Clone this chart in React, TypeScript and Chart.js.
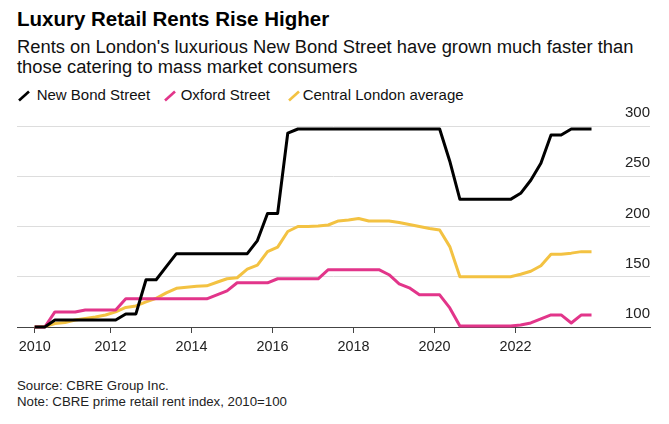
import React, { useEffect, useRef } from 'react';
import { Chart, registerables } from 'chart.js';

Chart.register(...registerables);

// ---- Data (CBRE prime retail rent index, 2010=100, quarterly) ----
const START_YEAR = 2010;

const NEW_BOND_STREET = [
  100, 100, 107, 107, 107, 107, 107, 107, 107, 113,
  113, 147, 147, 160, 173, 173, 173, 173, 173, 173,
  173, 173, 186, 213, 213, 293, 297, 297, 297, 297,
  297, 297, 297, 297, 297, 297, 297, 297, 297, 297,
  297, 265, 227, 227, 227, 227, 227, 227, 233, 246,
  263, 291, 291, 297, 297, 297,
];

const OXFORD_STREET = [
  100, 100, 115, 115, 115, 117, 117, 117, 117, 128,
  128, 128, 128, 128, 128, 128, 128, 128, 132, 136,
  144, 144, 144, 144, 148, 148, 148, 148, 148, 157,
  157, 157, 157, 157, 157, 152, 143, 139, 132, 132,
  132, 119, 101, 101, 101, 101, 101, 101, 102, 104,
  108, 112, 112, 104, 112, 112,
];

const CENTRAL_LONDON = [
  100, 100.5, 103.5, 104.5, 107, 108.5, 110, 112, 115, 119.5,
  121, 125, 128.5, 134, 138.5, 139.5, 140.5, 141, 144.5, 148,
  149, 157.5, 161.5, 175, 179.5, 195, 200, 200, 200.5, 201.5,
  205.5, 206.5, 208, 205.5, 205.5, 205.5, 204, 202, 200, 198,
  196.5, 180, 150, 150, 150, 150, 150, 150, 152.5, 155.5,
  161, 172.5, 172.5, 173.5, 175, 175,
];

// quarter mid-points as decimal years
const QUARTERS = NEW_BOND_STREET.map(
  (_, i) => START_YEAR + Math.floor(i / 4) + (i % 4) * 0.25 + 0.125
);

const SERIES_NAMES = ['New Bond Street', 'Oxford Street', 'Central London average'];
const SERIES_VALUES = [NEW_BOND_STREET, OXFORD_STREET, CENTRAL_LONDON];
const SERIES_COLORS = ['#000000', '#e2358a', '#f3c242'];

const X_TICK_YEARS = [2010, 2012, 2014, 2016, 2018, 2020, 2022];
const Y_TICKS = [100, 150, 200, 250, 300];

const FONT = '"Liberation Sans", Arial, Helvetica, sans-serif';

function ChartCanvas() {
  const ref = useRef<HTMLCanvasElement | null>(null);

  useEffect(() => {
    if (!ref.current) return;
    const chart = new Chart(ref.current, {
      type: 'line',
      data: {
        datasets: SERIES_NAMES.map((name, i) => ({
          label: name,
          data: QUARTERS.map((x, j) => ({ x, y: SERIES_VALUES[i][j] })),
          borderColor: SERIES_COLORS[i],
          backgroundColor: SERIES_COLORS[i],
          borderWidth: 3,
          pointRadius: 0,
          pointHoverRadius: 0,
          tension: 0,
          fill: false,
          clip: false as any,
          borderJoinStyle: 'round' as const,
        })),
      },
      options: {
        responsive: false,
        animation: false,
        devicePixelRatio: 1,
        events: [],
        layout: { padding: { left: 17, right: 19, top: 26, bottom: 0 } },
        plugins: {
          legend: { display: false },
          tooltip: { enabled: false },
          title: { display: false },
        },
        scales: {
          x: {
            type: 'linear',
            position: 'bottom',
            min: 2009.689,
            max: 2025.319,
            afterBuildTicks: (s: any) => {
              s.ticks = X_TICK_YEARS.map((y) => ({ value: Math.max(y, QUARTERS[0]) }));
            },
            afterFit: (s: any) => {
              s.height = 43;
            },
            grid: {
              drawOnChartArea: false,
              drawTicks: true,
              tickLength: 6,
              color: '#444444',
              lineWidth: 1,
            },
            border: { display: true, color: '#444444', width: 1 },
            ticks: {
              padding: 5,
              color: '#222222',
              autoSkip: false,
              maxRotation: 0,
              font: { family: FONT, size: 14.4 },
              callback: (v: any) => String(Math.floor(Number(v))),
            },
          },
          y: {
            type: 'linear',
            position: 'right',
            min: 100,
            max: 300,
            afterBuildTicks: (s: any) => {
              s.ticks = Y_TICKS.map((v) => ({ value: v }));
            },
            grid: { color: '#dddddd', lineWidth: 1, drawTicks: false },
            border: { display: false },
            ticks: {
              mirror: true,
              padding: 0,
              labelOffset: -13,
              color: '#222222',
              font: { family: FONT, size: 15 },
              callback: (v: any) => String(v),
            },
          },
        },
      } as any,
    });
    return () => chart.destroy();
  }, []);

  return (
    <canvas
      ref={ref}
      width={669}
      height={270}
      style={{ position: 'absolute', left: 0, top: 100, width: 669, height: 270 }}
    />
  );
}

function LegendIcon({ color, left }: { color: string; left: number }) {
  return (
    <svg
      width={14}
      height={12}
      style={{ position: 'absolute', left, top: 89.5 }}
      viewBox="0 0 14 12"
    >
      <line x1={2} y1={10.5} x2={12} y2={1.5} stroke={color} strokeWidth={2.6} />
    </svg>
  );
}

export default function App() {
  const textBase: React.CSSProperties = {
    position: 'absolute',
    fontFamily: FONT,
    color: '#111',
    whiteSpace: 'nowrap',
    margin: 0,
  };
  const iconLefts = [17, 162.5, 286.5];
  const textLefts = [36.7, 180.7, 302.7];
  return (
    <div
      style={{
        position: 'fixed',
        left: 0,
        top: 0,
        width: 669,
        height: 424,
        background: '#ffffff',
        overflow: 'hidden',
      }}
    >
      <div
        style={{
          ...textBase,
          left: 17,
          top: 6.9,
          fontSize: 20.5,
          lineHeight: '24px',
          fontWeight: 700,
          color: '#000',
        }}
      >
        Luxury Retail Rents Rise Higher
      </div>
      <div
        style={{
          ...textBase,
          left: 17,
          top: 36.8,
          width: 645,
          whiteSpace: 'normal',
          fontSize: 18.35,
          lineHeight: '20.4px',
        }}
      >
        Rents on London's luxurious New Bond Street have grown much faster than those catering to mass market consumers
      </div>
      {SERIES_NAMES.map((name, i) => (
        <React.Fragment key={name}>
          <LegendIcon color={SERIES_COLORS[i]} left={iconLefts[i]} />
          <div style={{ ...textBase, left: textLefts[i], top: 86, fontSize: 15, lineHeight: '18px' }}>
            {name}
          </div>
        </React.Fragment>
      ))}
      <ChartCanvas />
      <div style={{ ...textBase, left: 17, top: 378.4, fontSize: 13.25, lineHeight: '16px', color: '#222' }}>
        Source: CBRE Group Inc.
      </div>
      <div style={{ ...textBase, left: 17, top: 394.4, fontSize: 13.25, lineHeight: '16px', color: '#222' }}>
        Note: CBRE prime retail rent index, 2010=100
      </div>
    </div>
  );
}
